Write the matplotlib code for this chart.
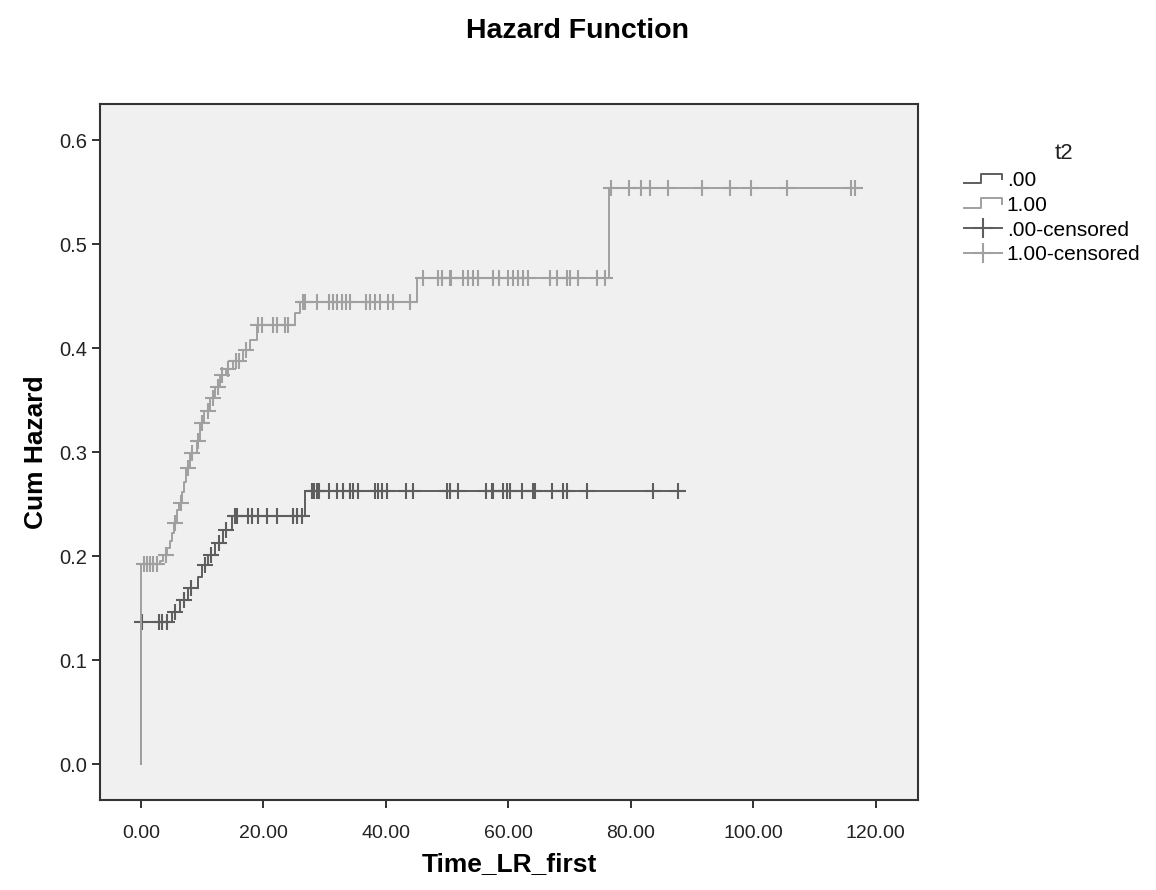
import numpy as np
import matplotlib.pyplot as plt
from matplotlib.lines import Line2D
from matplotlib.legend_handler import HandlerBase

plt.rcParams['font.family'] = ['Liberation Sans', 'DejaVu Sans']

# group .00 : event times and cumulative hazard after each step
t0_times = [0.0, 5.0, 6.4, 7.7, 9.3, 10.0, 11.0, 12.1, 13.4, 14.9, 26.8]
t0_haz = [0.137, 0.146, 0.158, 0.169, 0.180, 0.191, 0.201, 0.213, 0.225, 0.239, 0.263]
t0_end = 88.8
t0_cens = [0.1, 2.9, 3.5, 4.3, 5.5, 7.0, 8.2, 10.5, 11.5, 12.8, 13.9,
           15.3, 15.6, 17.5, 18.1, 19.1, 20.6, 22.2, 24.8, 25.5, 26.3,
           27.9, 28.3, 28.7, 29.0, 30.7, 32.0, 33.0, 34.2, 34.7, 35.5,
           38.2, 38.7, 39.3, 40.1, 43.3, 44.5, 49.9, 50.4, 51.8, 56.4,
           57.3, 57.5, 59.2, 59.7, 60.2, 62.2, 64.1, 64.3, 67.1, 69.0,
           69.5, 72.8, 83.6, 87.7]

# group 1.00
t1_times = [0.0, 3.1, 3.6, 4.2, 4.7, 5.1, 5.4, 5.9, 6.2, 6.7, 7.0, 7.3, 8.0,
            9.1, 9.6, 10.3, 11.3, 12.1, 12.9, 13.8, 15.0, 16.7, 17.8, 18.9,
            25.1, 26.0, 45.0, 76.5]
t1_haz = [0.192, 0.195, 0.201, 0.208, 0.215, 0.222, 0.232, 0.244, 0.251, 0.262,
          0.271, 0.285, 0.299, 0.311, 0.328, 0.340, 0.352, 0.363, 0.374, 0.380,
          0.388, 0.398, 0.408, 0.422, 0.434, 0.444, 0.467, 0.554]
t1_end = 117.4
t1_cens = [0.5, 1.0, 1.5, 2.0, 2.6, 4.0, 5.6, 6.5, 7.6, 8.4, 9.3, 10.0, 11.0,
           11.8, 12.5, 13.3, 14.2, 15.5, 16.0, 17.2, 19.1, 19.7, 21.6, 22.2,
           23.5, 24.0, 26.4, 26.8, 28.7, 30.7, 31.4, 32.0, 32.8, 33.5, 34.1,
           36.8, 37.4, 38.2, 39.0, 40.4, 41.2, 43.9, 46.1, 48.5, 49.1, 50.4,
           50.7, 52.6, 53.4, 54.3, 55.1, 57.5, 58.4, 60.0, 60.8, 61.6, 62.4,
           63.2, 66.8, 67.9, 69.5, 70.0, 71.4, 74.4, 75.8, 76.8, 79.7, 81.6,
           83.1, 86.1, 91.6, 96.2, 99.7, 105.5, 116.0, 116.6]

group_labels = ['.00', '1.00']
colors = ['#5e5e5e', '#a0a0a0']


def step_xy(times, haz, end):
    x = np.r_[0.0, times, end]
    y = np.r_[0.0, haz, haz[-1]]
    return x, y


def cens_y(times, haz, cens):
    idx = np.searchsorted(times, cens, side='right') - 1
    return np.asarray(haz)[idx]


class StepHandler(HandlerBase):
    def create_artists(self, legend, orig_handle, xdescent, ydescent,
                       width, height, fontsize, trans):
        x0 = -xdescent
        xs = [x0, x0 + 0.45 * width, x0 + 0.45 * width, x0 + width, x0 + width]
        ys = [0.2 * height, 0.2 * height, 0.85 * height, 0.85 * height, 0.45 * height]
        ys = [v - ydescent for v in ys]
        ln = Line2D(xs, ys, color=orig_handle.get_color(), lw=1.4, transform=trans)
        return [ln]


fig = plt.figure(figsize=(11.56, 8.90), dpi=100)
ax = fig.add_axes([0.0865, 0.101, 0.7076, 0.782])
ax.set_facecolor('#f0f0f0')

data = [(t0_times, t0_haz, t0_end, t0_cens), (t1_times, t1_haz, t1_end, t1_cens)]
step_handles = []
cens_handles = []
for (times, haz, end, cens), col, lab in zip(data, colors, group_labels):
    x, y = step_xy(times, haz, end)
    h, = ax.step(x, y, where='post', color=col, lw=1.4)
    ax.plot(cens, cens_y(times, haz, cens), linestyle='none', marker='+',
            color=col, markersize=11, markeredgewidth=1.5)
    step_handles.append(h)
    cens_handles.append(Line2D([], [], color=col, lw=1.4, marker='+',
                               markersize=14, markeredgewidth=1.5))

ax.set_xlim(-6.7, 126.9)
ax.set_ylim(-0.0346, 0.6346)
ax.set_xticks(np.arange(0, 121, 20))
ax.set_xticklabels(['%.2f' % v for v in np.arange(0, 121, 20)])
ax.set_yticks(np.arange(0, 0.61, 0.1))
ax.set_yticklabels(['%.1f' % v for v in np.arange(0, 0.61, 0.1)])
ax.tick_params(direction='out', length=6, width=1.3, labelsize=14, colors='#222222')
ax.tick_params(axis='x', pad=12)
ax.tick_params(axis='y', pad=3, labelsize=14.5)
for sp in ax.spines.values():
    sp.set_color('#333333')
    sp.set_linewidth(1.5)

ax.set_xlabel('Time_LR_first', fontsize=19, fontweight='bold', labelpad=7)
ax.set_ylabel('Cum Hazard', fontsize=19, fontweight='bold', labelpad=8)
fig.suptitle('Hazard Function', fontsize=20.5, fontweight='bold', x=0.5, y=0.98)

fig.text(1064 / 1156, 1 - 154 / 890, 't2', fontsize=16, ha='center', va='center',
         color='#222222')
handles = step_handles + cens_handles
labels = group_labels + [g + '-censored' for g in group_labels]
leg = fig.legend(handles, labels, loc='upper left',
                 bbox_to_anchor=(964 / 1156, 1 - 171 / 890),
                 frameon=False, fontsize=15, handlelength=1.8,
                 handletextpad=0.25, labelspacing=0.28,
                 borderpad=0, borderaxespad=0,
                 handler_map={h: StepHandler() for h in step_handles})

fig.savefig('out.png', dpi=100)
